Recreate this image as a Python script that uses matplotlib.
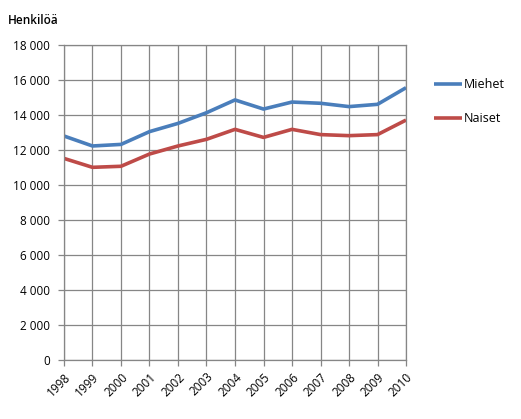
import matplotlib
matplotlib.use("Agg")
import matplotlib.pyplot as plt
from matplotlib.ticker import FuncFormatter

years = list(range(1998, 2011))
miehet = [12800, 12230, 12320, 13050, 13520, 14130, 14860, 14340, 14740, 14670, 14480, 14610, 15560]
naiset = [11520, 11010, 11070, 11770, 12230, 12610, 13180, 12720, 13180, 12880, 12820, 12880, 13710]

plt.rcParams["font.family"] = ["Open Sans", "DejaVu Sans"]

fig = plt.figure(figsize=(5.21, 4.19), dpi=100)
ax = fig.add_axes([0.1228, 0.1408, 0.6565, 0.7518])

ax.plot(years, miehet, color="#4a7ebb", lw=2.6, label="Miehet", solid_capstyle="butt")
ax.plot(years, naiset, color="#be4b48", lw=2.6, label="Naiset", solid_capstyle="butt")

ax.set_xlim(1998, 2010)
ax.set_ylim(0, 18000)
ax.set_xticks(years)
ax.set_yticks(range(0, 18001, 2000))
ax.yaxis.set_major_formatter(FuncFormatter(lambda v, p: f"{int(v):,}".replace(",", " ")))
ax.set_xticklabels([str(y) for y in years], rotation=45, ha="right", rotation_mode="anchor")

ax.grid(True, color="#868686", lw=0.9)
ax.set_axisbelow(True)
for s in ax.spines.values():
    s.set_color("#868686")
    s.set_linewidth(0.9)
ax.tick_params(axis="both", colors="#868686", length=4, width=0.9, labelsize=8.5, labelcolor="black")
ax.tick_params(axis="y", pad=6)

fig.text(8 / 521, 1 - 20 / 419, "Henkilöä", fontsize=8.5, va="center", ha="left", fontweight="semibold")

ax.legend(loc="center left", bbox_to_anchor=(1.05, 0.82), frameon=False,
          fontsize=9, handlelength=2.2, handletextpad=0.15, labelspacing=1.7)

fig.savefig("out.png", dpi=100)
